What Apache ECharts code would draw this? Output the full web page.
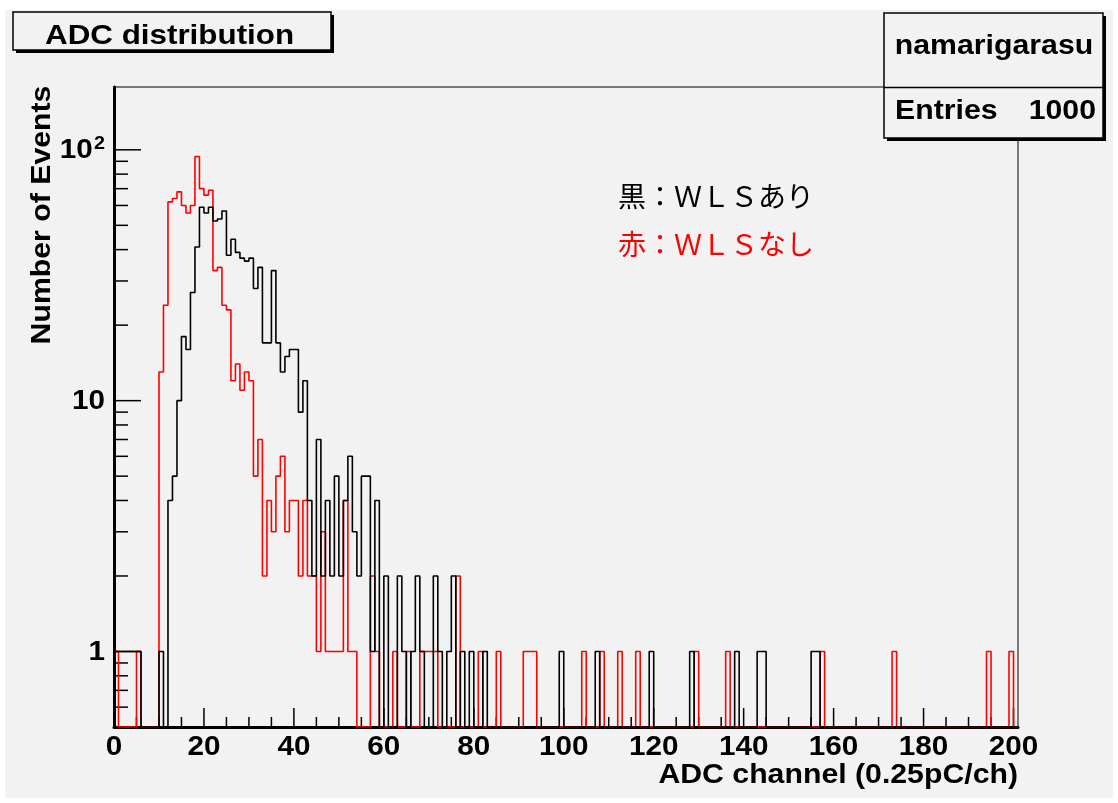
<!DOCTYPE html>
<html>
<head>
<meta charset="utf-8">
<title>ADC distribution</title>
<script src="https://cdn.jsdelivr.net/npm/echarts@6/dist/echarts.min.js"></script>
<style>
  html, body { margin: 0; padding: 0; background: #ffffff; }
  #wrap { position: relative; width: 1118px; height: 803px; overflow: hidden; }
  #pad { position: absolute; left: 5px; top: 10px; width: 1108px; height: 788px; background: #f2f2f2; }
  #chart { position: absolute; left: 0; top: 0; width: 1118px; height: 803px; }
</style>
</head>
<body>
<div id="wrap"><div id="pad"></div><div id="chart"></div></div>
<script>
// Histogram range (ADC channels, one channel per bin) and log-scale y range
const X_MIN = 0;
const X_MAX = 201;
const Y_MIN = 0.5;
const Y_MAX = 178;

// Counts per channel, bins 0..200 : black = with WLS
const countsWithWLS = [
  1, 1, 1, 1, 1, 1, 0, 0, 0, 0,
  1, 0, 4, 5, 10, 18, 16, 27, 41, 59,
  56, 59, 52, 53, 57, 38, 44, 39, 37, 36,
  37, 28, 34, 17, 17, 33, 17, 13, 15, 16,
  16, 9, 12, 4, 2, 7, 2, 4, 2, 5,
  2, 4, 6, 3, 2, 5, 5, 1, 4, 0,
  2, 0, 0, 2, 1, 0, 1, 2, 1, 0,
  0, 2, 1, 0, 1, 2, 0, 1, 0, 1,
  0, 0, 1, 0, 0, 0, 0, 0, 0, 0,
  0, 0, 0, 0, 0, 0, 0, 0, 0, 1,
  0, 0, 0, 0, 0, 0, 0, 1, 0, 0,
  0, 0, 0, 0, 0, 0, 0, 0, 0, 1,
  0, 0, 0, 0, 0, 0, 0, 0, 1, 0,
  0, 0, 0, 0, 0, 0, 0, 0, 1, 0,
  0, 0, 0, 1, 1, 0, 0, 0, 0, 0,
  0, 0, 0, 0, 0, 1, 1, 0, 0, 0,
  0, 0, 0, 0, 0, 0, 0, 0, 0, 0,
  0, 0, 0, 0, 0, 0, 0, 0, 0, 0,
  0, 0, 0, 0, 0, 0, 0, 0, 0, 0,
  0, 0, 0, 0, 0, 0, 0, 0, 0, 0,
  0
];

// Counts per channel, bins 0..200 : red = without WLS
const countsWithoutWLS = [
  1, 0, 0, 0, 0, 1, 0, 0, 0, 0,
  13, 24, 62, 64, 68, 60, 56, 60, 94, 70,
  66, 69, 33, 34, 24, 23, 12, 14, 11, 13,
  12, 5, 7, 2, 4, 3, 5, 6, 3, 4,
  4, 2, 4, 2, 2, 1, 3, 1, 1, 1,
  1, 4, 1, 1, 0, 0, 0, 2, 1, 0,
  0, 0, 1, 0, 0, 1, 0, 0, 1, 1,
  1, 1, 0, 0, 0, 0, 2, 0, 0, 0,
  0, 1, 0, 0, 0, 1, 0, 0, 0, 0,
  0, 1, 1, 1, 0, 0, 0, 0, 0, 0,
  0, 0, 0, 0, 1, 0, 0, 0, 1, 0,
  0, 0, 1, 0, 0, 0, 1, 0, 0, 0,
  0, 0, 0, 0, 0, 0, 0, 0, 0, 1,
  0, 0, 0, 0, 0, 0, 1, 0, 0, 0,
  0, 0, 0, 0, 0, 0, 0, 0, 0, 0,
  0, 0, 0, 0, 0, 0, 0, 1, 0, 0,
  0, 0, 0, 0, 0, 0, 0, 0, 0, 0,
  0, 0, 0, 1, 0, 0, 0, 0, 0, 0,
  0, 0, 0, 0, 0, 0, 0, 0, 0, 0,
  0, 0, 0, 0, 1, 0, 0, 0, 0, 1,
  0
];

// Axis ticks (ROOT style: inward ticks on the left and bottom axes)
const xMajorTicks = [0, 20, 40, 60, 80, 100, 120, 140, 160, 180, 200];
const xMinorTicks = [5, 10, 15, 25, 30, 35, 45, 50, 55, 65, 70, 75, 85, 90, 95,
  105, 110, 115, 125, 130, 135, 145, 150, 155, 165, 170, 175, 185, 190, 195];
const yMajorTicks = [1, 10, 100];
const yMinorTicks = [0.6, 0.7, 0.8, 0.9, 2, 3, 4, 5, 6, 7, 8, 9,
  20, 30, 40, 50, 60, 70, 80, 90];
const yTickLabels = ['1', '10', '{b|10}{s|2}'];

const TEXT_FONT = '"Liberation Sans", Arial, sans-serif';
const JP_FONT = '"Noto Sans CJK JP", "Noto Sans", sans-serif';
const STRETCH = 1.12;

// Step outline of a histogram; empty bins sit on the bottom of the frame
function histogramOutline(counts) {
  const pts = counts.map((c, i) => [i, c > 0 ? c : Y_MIN]);
  pts.push([counts.length, pts[pts.length - 1][1]]);
  return pts;
}

function tickSeries(values, length, vertical) {
  return {
    type: 'custom',
    silent: true,
    clip: false,
    z: 4,
    data: values.map(v => vertical ? [v, Y_MIN, length] : [X_MIN, v, length]),
    renderItem(params, api) {
      const p = api.coord([api.value(0), api.value(1)]);
      const len = api.value(2);
      const shape = vertical
        ? { x1: p[0], y1: p[1], x2: p[0], y2: p[1] - len }
        : { x1: p[0], y1: p[1], x2: p[0] + len, y2: p[1] };
      return { type: 'line', shape, style: { stroke: '#000', lineWidth: 1.5 } };
    }
  };
}

// Bold, slightly widened tick labels placed through the axis scales
const labelRich = {
  b: { font: 'bold 27px ' + TEXT_FONT, fill: '#000' },
  s: { font: 'bold 18px ' + TEXT_FONT, fill: '#000', verticalAlign: 'top', padding: [0, 0, 13, 1] }
};

function xLabelSeries() {
  return {
    type: 'custom', silent: true, clip: false, z: 4,
    data: xMajorTicks.map(v => [v, Y_MIN]),
    renderItem(params, api) {
      const v = api.value(0);
      const p = api.coord([v, api.value(1)]);
      return {
        type: 'text', x: p[0], y: p[1] + 21, scaleX: 1.1,
        style: { text: String(v), font: 'bold 27px ' + TEXT_FONT, fill: '#000',
                 align: 'center', verticalAlign: 'middle' }
      };
    }
  };
}

function yLabelSeries() {
  return {
    type: 'custom', silent: true, clip: false, z: 4,
    data: yMajorTicks.map((v, i) => [X_MIN, v, i]),
    renderItem(params, api) {
      const p = api.coord([api.value(0), api.value(1)]);
      return {
        type: 'text', x: p[0] - 9, y: p[1] + 1, scaleX: 1.1,
        style: { text: yTickLabels[api.value(2)], font: 'bold 27px ' + TEXT_FONT,
                 fill: '#000', align: 'right', verticalAlign: 'middle', rich: labelRich }
      };
    }
  };
}

function boxWithShadow(x, y, w, h) {
  return [
    { type: 'rect', z: 100, shape: { x: x + 3, y: y + 3, width: w, height: h },
      style: { fill: '#000' } },
    { type: 'rect', z: 101, shape: { x: x, y: y, width: w, height: h },
      style: { fill: '#f2f2f2', stroke: '#000', lineWidth: 1.5 } }
  ];
}

function label(text, x, y, align, size, extra) {
  return Object.assign({
    type: 'text', z: 102, x, y, scaleX: STRETCH,
    style: { text, fill: '#000', font: 'bold ' + (size || 27) + 'px ' + TEXT_FONT,
             align: align || 'left', verticalAlign: 'middle' }
  }, extra || {});
}

const chart = echarts.init(document.getElementById('chart'), null, { renderer: 'canvas' });

chart.setOption({
  backgroundColor: 'transparent',
  animation: false,
  grid: {
    left: 114, right: 100, top: 87, bottom: 76,
    show: true, borderColor: '#000', borderWidth: 1, backgroundColor: 'transparent'
  },
  xAxis: {
    type: 'value',
    min: X_MIN, max: X_MAX, interval: 20,
    axisLine: { show: true, onZero: false, lineStyle: { color: '#000', width: 3 } },
    axisTick: { show: false },
    splitLine: { show: false },
    axisLabel: { show: false }
  },
  yAxis: {
    type: 'log', logBase: 10,
    min: Y_MIN, max: Y_MAX,
    axisLine: { show: true, lineStyle: { color: '#000', width: 3 } },
    axisTick: { show: false },
    splitLine: { show: false },
    axisLabel: { show: false }
  },
  series: [
    {
      name: '赤：WLSなし',
      type: 'line', step: 'end', z: 5,
      showSymbol: false, symbol: 'none',
      data: histogramOutline(countsWithoutWLS),
      lineStyle: { color: '#ff0000', width: 1.6 }
    },
    {
      name: '黒：WLSあり',
      type: 'line', step: 'end', z: 6,
      showSymbol: false, symbol: 'none',
      data: histogramOutline(countsWithWLS),
      lineStyle: { color: '#000000', width: 1.6 }
    },
    tickSeries(xMajorTicks, 19, true),
    tickSeries(xMinorTicks, 10, true),
    tickSeries(yMajorTicks, 27, false),
    tickSeries(yMinorTicks, 14, false),
    xLabelSeries(),
    yLabelSeries()
  ],
  graphic: [
    // title box
    ...boxWithShadow(13, 12, 318, 38),
    label('ADC distribution', 45, 36, 'left', 28),
    // statistics box
    ...boxWithShadow(884, 13, 219, 125),
    { type: 'line', z: 102, shape: { x1: 884, y1: 87.5, x2: 1103, y2: 87.5 },
      style: { stroke: '#000', lineWidth: 1.5 } },
    label('namarigarasu', 994, 47, 'center', 27),
    label('Entries', 895, 112, 'left', 27),
    label('1000', 1096, 112, 'right', 27),
    // axis titles
    label('Number of Events', 43, 215, 'center', 27, { rotation: Math.PI / 2 }),
    label('ADC channel (0.25pC/ch)', 1018, 776, 'right', 27),
    // notes on the two histograms
    { type: 'text', z: 102, x: 618, y: 196,
      style: { text: '黒：ＷＬＳあり', fill: '#000', font: '28px ' + JP_FONT,
               align: 'left', verticalAlign: 'middle' } },
    { type: 'text', z: 102, x: 618, y: 244,
      style: { text: '赤：ＷＬＳなし', fill: '#ff0000', font: '28px ' + JP_FONT,
               align: 'left', verticalAlign: 'middle' } }
  ]
});
</script>
</body>
</html>
